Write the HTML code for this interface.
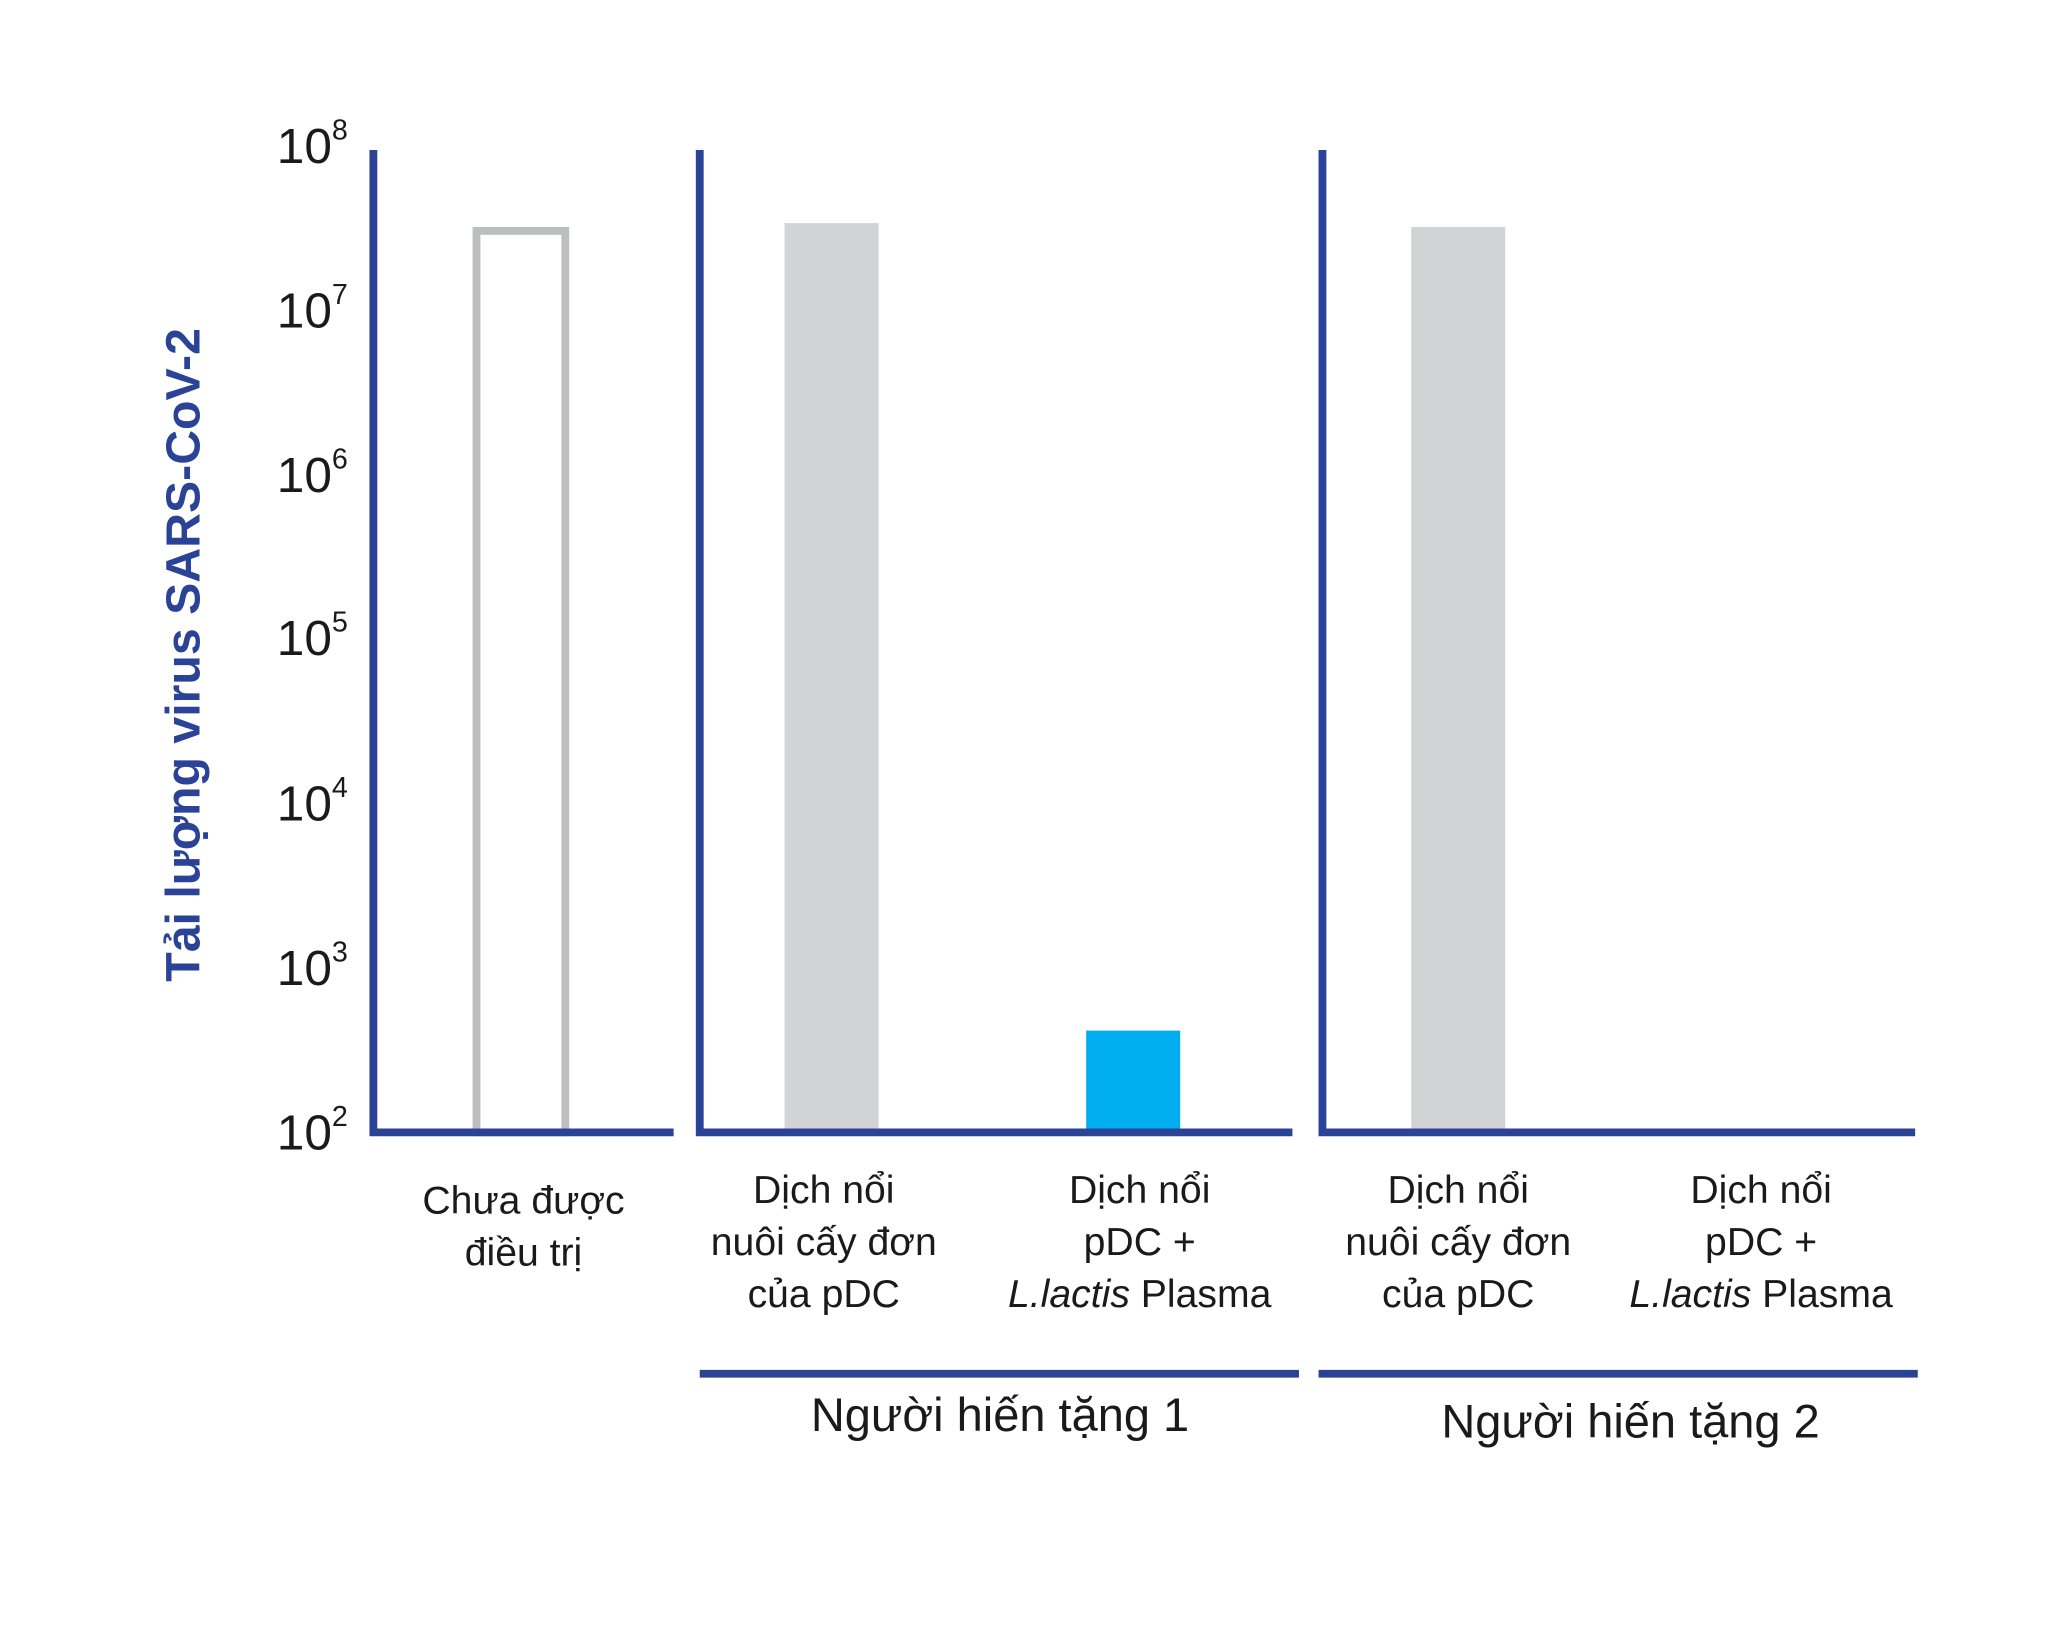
<!DOCTYPE html>
<html><head><meta charset="utf-8"><style>
html,body{margin:0;padding:0;background:#fff;}
svg{display:block;}
text{font-family:"Liberation Sans Narrow","Liberation Sans",sans-serif;fill:#1a1a1a;}
</style></head><body>
<svg width="2047" height="1649" viewBox="0 0 1568 1264" preserveAspectRatio="none" xmlns="http://www.w3.org/2000/svg">
<rect width="1568" height="1264" fill="#fff"/>
<rect x="365" y="177" width="68" height="691" fill="none" stroke="#bcbec0" stroke-width="6"/>
<rect x="601" y="171" width="72" height="697" fill="#d1d3d4"/>
<rect x="832" y="790" width="72" height="78" fill="#00aeef"/>
<rect x="1081" y="174" width="72" height="694" fill="#d1d3d4"/>
<g stroke="#2a4396" stroke-width="6" fill="none">
<polyline points="286,115 286,868 516,868"/>
<polyline points="536,115 536,868 990,868"/>
<polyline points="1013,115 1013,868 1467,868"/>
<line x1="536" y1="1053" x2="995" y2="1053"/>
<line x1="1010" y1="1053" x2="1469" y2="1053"/>
</g>
<g font-size="38" text-anchor="start">
<text x="212" y="125">10<tspan font-size="22" dy="-18">8</tspan></text>
<text x="212" y="251">10<tspan font-size="22" dy="-18">7</tspan></text>
<text x="212" y="377">10<tspan font-size="22" dy="-18">6</tspan></text>
<text x="212" y="502">10<tspan font-size="22" dy="-18">5</tspan></text>
<text x="212" y="629">10<tspan font-size="22" dy="-18">4</tspan></text>
<text x="212" y="755">10<tspan font-size="22" dy="-18">3</tspan></text>
<text x="212" y="881">10<tspan font-size="22" dy="-18">2</tspan></text>
</g>
<text transform="translate(153,502) rotate(-90)" text-anchor="middle" font-size="37" font-weight="bold" style="fill:#2a4396;font-family:'Liberation Sans',sans-serif">Tải lượng virus SARS-CoV-2</text>
<g font-size="30" text-anchor="middle">
<text x="401" y="930">Chưa được</text>
<text x="401" y="970">điều trị</text>
<text x="631" y="922">Dịch nổi</text>
<text x="631" y="962">nuôi cấy đơn</text>
<text x="631" y="1002">của pDC</text>
<text x="873" y="922">Dịch nổi</text>
<text x="873" y="962">pDC +</text>
<text x="873" y="1002"><tspan font-style="italic">L.lactis</tspan> Plasma</text>
<text x="1117" y="922">Dịch nổi</text>
<text x="1117" y="962">nuôi cấy đơn</text>
<text x="1117" y="1002">của pDC</text>
<text x="1349" y="922">Dịch nổi</text>
<text x="1349" y="962">pDC +</text>
<text x="1349" y="1002"><tspan font-style="italic">L.lactis</tspan> Plasma</text>
</g>
<g font-size="36" text-anchor="middle">
<text x="766" y="1097">Người hiến tặng 1</text>
<text x="1249" y="1102">Người hiến tặng 2</text>
</g>
</svg>
</body></html>
